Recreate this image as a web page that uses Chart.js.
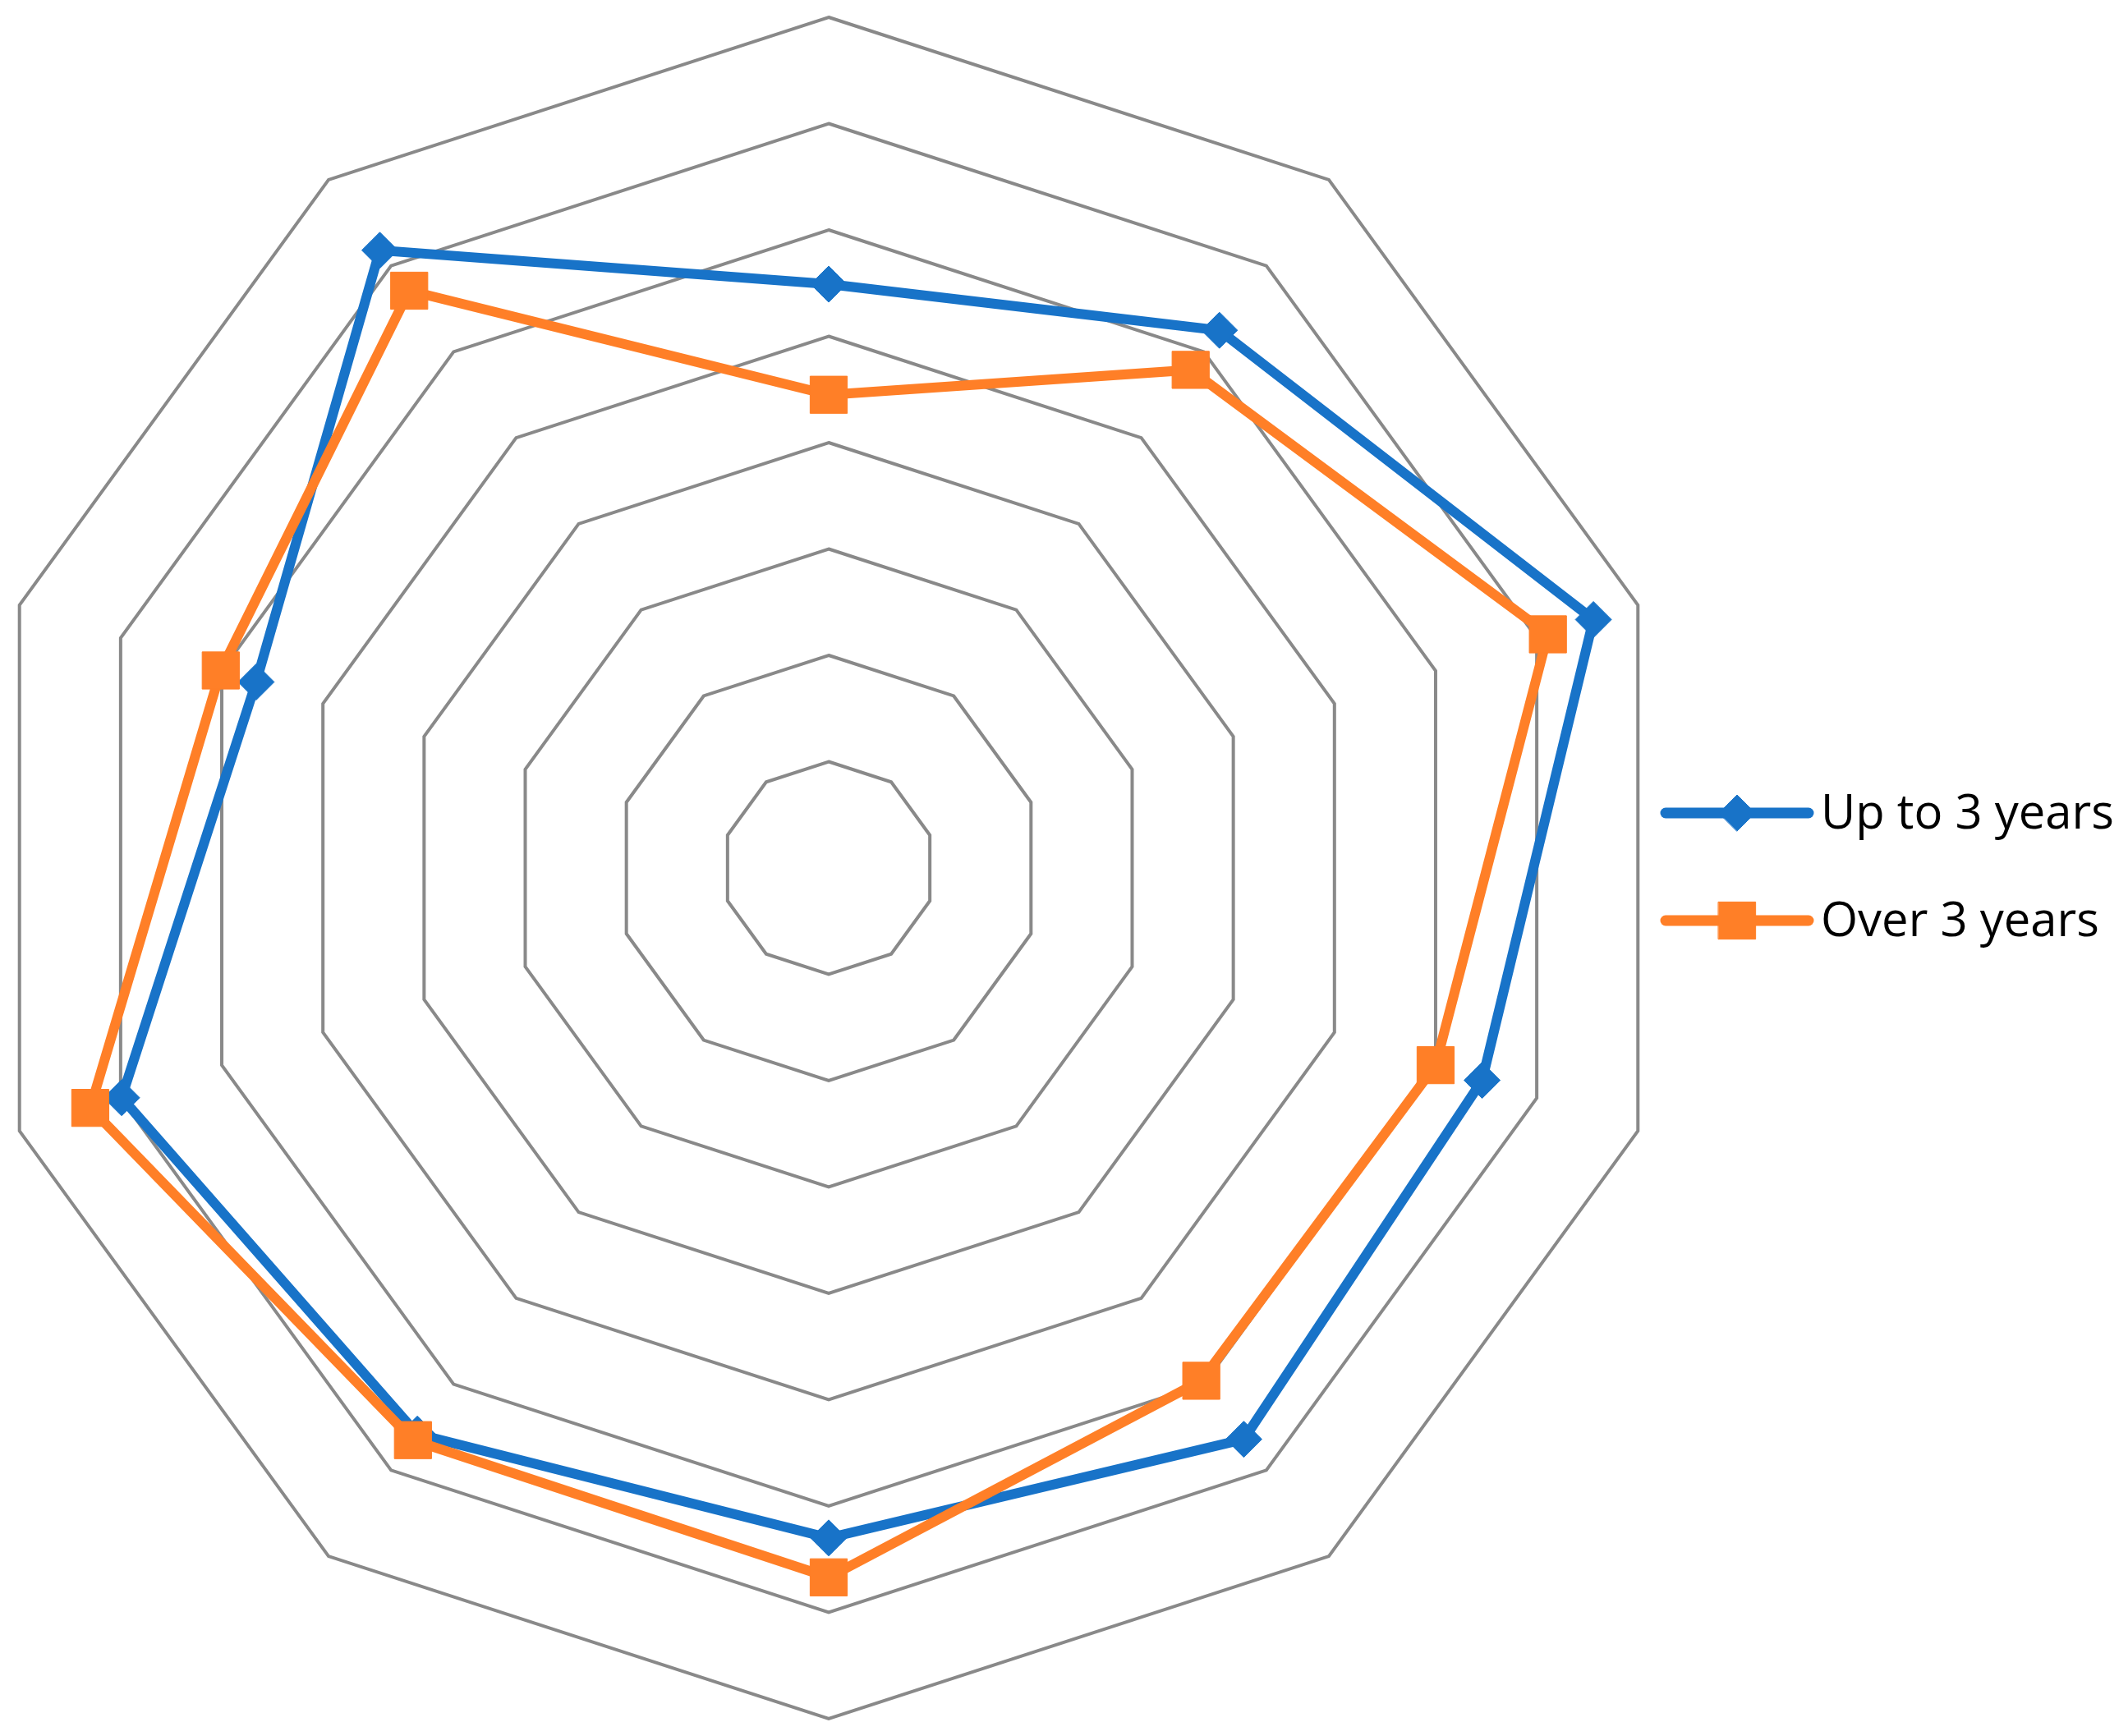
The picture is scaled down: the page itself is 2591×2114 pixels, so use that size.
<!DOCTYPE html>
<html>
<head>
<meta charset="utf-8">
<script src="https://cdn.jsdelivr.net/npm/chart.js@4.4.1/dist/chart.umd.min.js"></script>
<style>
    html, body {
        margin: 0;
        padding: 0;
        background: #ffffff;
        overflow: hidden;
    }
    #wrap {
        position: relative;
        width: 2591px;
        height: 2114px;
        overflow: hidden;
    }
    #radar {
        position: absolute;
        left: -27px;
        top: 0;
    }
</style>
</head>
<body>
<div id="wrap">
    <canvas id="radar" width="2618" height="2114"></canvas>
</div>
<script>
const categories = ["1", "2", "3", "4", "5", "6", "7", "8", "9", "10"];
const seriesNames = ["Up to 3 years", "Over 3 years"];
const upTo3Years = [5.49, 6.25, 7.56, 6.46, 6.64, 6.30, 6.58, 6.99, 5.66, 7.18];
const over3Years = [4.45, 5.79, 7.11, 6.00, 5.96, 6.67, 6.65, 7.30, 6.01, 6.71];
const scaleMin = 0;
const scaleMax = 8;
const scaleStep = 1;

const BLUE = "#1873c8";
const ORANGE = "#ff7f27";
const GRID = "#898989";

// legend drawn by hand: line + marker like the office style legend
const sideLegend = {
    id: "sideLegend",
    afterDraw(chart) {
        const ctx = chart.ctx;
        const x0 = 2055, x1 = 2229, rows = [990, 1121];
        chart.data.datasets.forEach((ds, i) => {
            const y = rows[i];
            ctx.save();
            ctx.strokeStyle = ds.borderColor;
            ctx.lineWidth = 13;
            ctx.lineCap = "round";
            ctx.beginPath();
            ctx.moveTo(x0, y);
            ctx.lineTo(x1, y);
            ctx.stroke();
            ctx.fillStyle = ds.pointBackgroundColor;
            ctx.strokeStyle = ds.pointBorderColor;
            ctx.lineWidth = 1;
            Chart.helpers.drawPoint(ctx, {
                pointStyle: ds.pointStyle,
                rotation: 0,
                radius: ds.pointRadius,
                borderWidth: 1
            }, (x0 + x1) / 2, y);
            ctx.fillStyle = "#000000";
            ctx.font = '58px "Open Sans", sans-serif';
            ctx.textBaseline = "alphabetic";
            ctx.textAlign = "left";
            ctx.fillText(ds.label, 2244, y + 19);
            ctx.restore();
        });
    }
};

new Chart(document.getElementById("radar"), {
    type: "radar",
    data: {
        labels: categories,
        datasets: [
            {
                label: seriesNames[0],
                data: upTo3Years,
                order: 1,
                borderColor: BLUE,
                backgroundColor: BLUE,
                borderWidth: 12,
                fill: false,
                pointStyle: "rectRot",
                pointRadius: 22,
                pointBackgroundColor: BLUE,
                pointBorderColor: BLUE,
                pointBorderWidth: 1
            },
            {
                label: seriesNames[1],
                data: over3Years,
                order: 0,
                borderColor: ORANGE,
                backgroundColor: ORANGE,
                borderWidth: 12,
                fill: false,
                pointStyle: "rect",
                pointRadius: 32,
                pointBackgroundColor: ORANGE,
                pointBorderColor: ORANGE,
                pointBorderWidth: 1
            }
        ]
    },
    options: {
        responsive: false,
        animation: false,
        layout: {
            padding: { top: 21, bottom: 21, left: 0, right: 546 }
        },
        elements: {
            line: { tension: 0 }
        },
        scales: {
            r: {
                min: scaleMin,
                max: scaleMax,
                ticks: { display: false, stepSize: scaleStep },
                pointLabels: { display: false },
                angleLines: { display: false },
                grid: { color: GRID, lineWidth: 4, circular: false }
            }
        },
        plugins: {
            legend: { display: false },
            tooltip: { enabled: false }
        }
    },
    plugins: [sideLegend]
});
</script>
</body>
</html>
